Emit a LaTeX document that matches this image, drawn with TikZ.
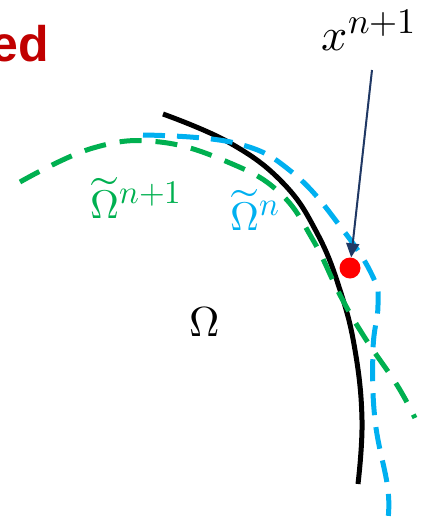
\documentclass[tikz,border=0pt]{standalone}
\usepackage{fontspec}
\usepackage{unicode-math}
\setmathfont{Latin Modern Math}
\newfontfamily\headfont{Liberation Sans}
\DeclareMathSizes{40}{40}{33}{26}
\DeclareMathSizes{46}{46}{36}{28}
\usetikzlibrary{arrows.meta,positioning}
\definecolor{bndblue}{HTML}{00B0F0}
\definecolor{bndgreen}{HTML}{00B050}
\definecolor{headred}{HTML}{C00000}
\definecolor{arrnavy}{HTML}{203864}
\begin{document}
\begin{tikzpicture}[
  x=1pt, y=-1pt,
  exact/.style  = {line width=5pt, black},
  oldbnd/.style = {line width=5pt, bndblue, dash pattern=on 22pt off 12pt},
  newbnd/.style = {line width=5pt, bndgreen, dash pattern=on 22pt off 14pt},
  lbl/.style    = {inner sep=0pt, font=\fontsize{40}{44}\selectfont},
  arr/.style    = {-{Triangle[length=14pt,width=13pt]}, line width=2pt, arrnavy},
  pnt/.style    = {circle, fill=red, inner sep=0pt, minimum size=21pt},
]
\useasboundingbox (0,0) rectangle (436,531);
% boundaries
\draw[exact] plot[smooth, tension=0.7] coordinates {(163,114) (230,143)
  (283,183) (317,233) (340,290) (355,350) (362,420) (358,484)};
\draw[oldbnd] plot[smooth, tension=0.7] coordinates {(143,135) (235,143)
  (293,173) (343,230) (373,277) (378,305) (373,350) (375,420) (388,490) (387,526)};
\draw[newbnd] plot[smooth, tension=0.7] coordinates {(20,182) (93,148)
  (160,142) (230,163) (280,193) (313,240) (340,295) (365,338) (397,385) (415,418)};
% labels
\node[anchor=east, inner sep=0pt, text=headred,
      font=\headfont\bfseries\fontsize{50}{60}\selectfont] (head) at (49,44) {ed};
\node[lbl, font=\fontsize{46}{50}\selectfont] (xlab) at (369,30) {$x^{n+1}$};
\node[lbl, text=bndgreen] (newlab) at (136,198) {$\widetilde{\Omega}^{n+1}$};
\node[lbl, text=bndblue] (oldlab) at (255,210) {$\widetilde{\Omega}^{n}$};
\node[lbl, font=\fontsize{42}{46}\selectfont] (dom) at (205,322) {$\Omega$};
\node[pnt] (pt) at (350,268) {};
\coordinate (tail) at (372,70);
\draw[arr] (tail) -- (pt);
\end{tikzpicture}
\end{document}
